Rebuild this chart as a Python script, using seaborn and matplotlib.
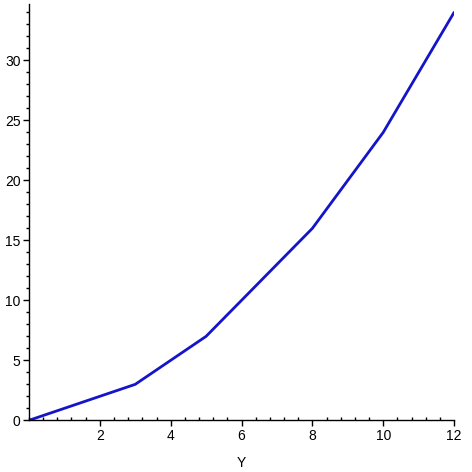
import matplotlib
matplotlib.use("Agg")
import matplotlib.pyplot as plt
import seaborn as sns
import pandas as pd
from matplotlib.ticker import MultipleLocator

x_vals = [0, 3, 5, 8, 10, 12]
y_vals = [0, 3, 7, 16, 24, 34]
x_label = "Y"

sns.set_style("white")
plt.rcParams['font.family'] = ['Liberation Sans', 'DejaVu Sans']

df = pd.DataFrame({"x": x_vals, "y": y_vals})

fig = plt.figure(figsize=(4.72, 4.72), dpi=100)
ax = fig.add_axes([0.0614, 0.1095, 0.9006, 0.882])
sns.lineplot(data=df, x="x", y="y", ax=ax, color="#1414c8", linewidth=2.0)

ax.set_xlim(0, 12)
ax.set_ylim(0, 34.7)
ax.xaxis.set_major_locator(MultipleLocator(2))
ax.xaxis.set_minor_locator(MultipleLocator(0.4))
ax.yaxis.set_major_locator(MultipleLocator(5))
ax.yaxis.set_minor_locator(MultipleLocator(1))

for s in ["top", "right"]:
    ax.spines[s].set_visible(False)
for s in ["left", "bottom"]:
    ax.spines[s].set_color("black")
    ax.spines[s].set_linewidth(1.0)

ax.tick_params(axis="both", which="both", bottom=True, left=True, top=False, right=False,
               colors="black", labelcolor="black")
ax.tick_params(axis="both", which="major", length=4, width=1,
               labelsize=10, direction="out", pad=2)
ax.tick_params(axis="both", which="minor", length=2.5, width=1, direction="out")
ax.tick_params(axis="x", which="minor", direction="in")
ax.set_xticks([2, 4, 6, 8, 10, 12])
ax.set_yticks([0, 5, 10, 15, 20, 25, 30])
ax.set_xlabel(x_label, fontsize=10, color="black")
ax.xaxis.set_label_coords(0.5, -0.085)
ax.set_ylabel("")

fig.savefig("out.png", dpi=100)
